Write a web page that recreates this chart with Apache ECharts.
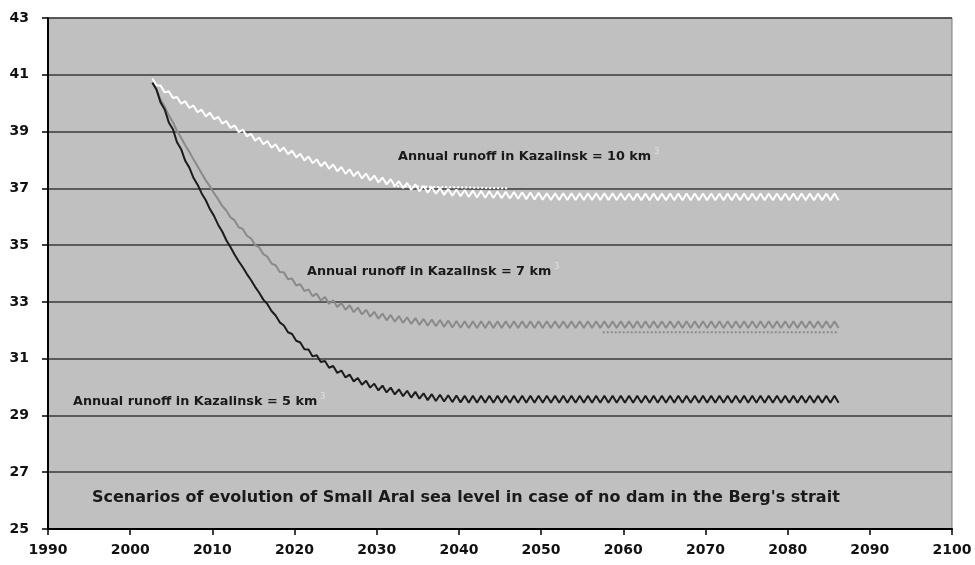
<!DOCTYPE html>
<html>
<head>
<meta charset="utf-8">
<title>Small Aral sea level scenarios</title>
<script src="https://cdn.jsdelivr.net/npm/echarts@6/dist/echarts.min.js"></script>
<style>
html, body { margin: 0; padding: 0; background: #fff; }
#chart { width: 975px; height: 565px; }
</style>
</head>
<body>
<div id="chart"></div>
<script>
// years of simulation (one high/low pair per year)
var years = [
    2003, 2004, 2005, 2006, 2007, 2008, 2009, 2010, 2011, 2012,
    2013, 2014, 2015, 2016, 2017, 2018, 2019, 2020, 2021, 2022,
    2023, 2024, 2025, 2026, 2027, 2028, 2029, 2030, 2031, 2032,
    2033, 2034, 2035, 2036, 2037, 2038, 2039, 2040, 2041, 2042,
    2043, 2044, 2045, 2046, 2047, 2048, 2049, 2050, 2051, 2052,
    2053, 2054, 2055, 2056, 2057, 2058, 2059, 2060, 2061, 2062,
    2063, 2064, 2065, 2066, 2067, 2068, 2069, 2070, 2071, 2072,
    2073, 2074, 2075, 2076, 2077, 2078, 2079, 2080, 2081, 2082,
    2083, 2084, 2085, 2086
];

// runoff 10 km3 (white)
var hi10 = [
    40.87, 40.62, 40.42, 40.22, 40.07, 39.92, 39.77, 39.67, 39.52, 39.37,
    39.22, 39.07, 38.92, 38.79, 38.67, 38.55, 38.44, 38.33, 38.22, 38.12,
    38.02, 37.93, 37.84, 37.75, 37.67, 37.59, 37.52, 37.45, 37.38, 37.32,
    37.25, 37.19, 37.14, 37.09, 37.05, 37.01, 36.98, 36.96, 36.94, 36.92,
    36.91, 36.90, 36.89, 36.88, 36.87, 36.86, 36.85, 36.84, 36.83, 36.83,
    36.83, 36.83, 36.83, 36.83, 36.83, 36.83, 36.83, 36.83, 36.82, 36.82,
    36.82, 36.82, 36.82, 36.82, 36.82, 36.82, 36.82, 36.82, 36.82, 36.82,
    36.82, 36.82, 36.82, 36.82, 36.82, 36.82, 36.82, 36.82, 36.82, 36.82,
    36.82, 36.82, 36.82, 36.82
];
var lo10 = [
    40.63, 40.38, 40.18, 39.98, 39.83, 39.68, 39.53, 39.43, 39.28, 39.13,
    38.98, 38.83, 38.68, 38.55, 38.43, 38.31, 38.20, 38.09, 37.98, 37.88,
    37.78, 37.69, 37.60, 37.51, 37.43, 37.35, 37.28, 37.21, 37.14, 37.08,
    37.01, 36.95, 36.90, 36.85, 36.81, 36.77, 36.74, 36.72, 36.70, 36.68,
    36.67, 36.66, 36.65, 36.64, 36.63, 36.62, 36.61, 36.60, 36.59, 36.59,
    36.59, 36.59, 36.59, 36.59, 36.59, 36.59, 36.59, 36.59, 36.58, 36.58,
    36.58, 36.58, 36.58, 36.58, 36.58, 36.58, 36.58, 36.58, 36.58, 36.58,
    36.58, 36.58, 36.58, 36.58, 36.58, 36.58, 36.58, 36.58, 36.58, 36.58,
    36.58, 36.58, 36.58, 36.58
];

// runoff 7 km3 (grey)
var hi7 = [
    40.72, 40.12, 39.57, 39.02, 38.52, 38.02, 37.52, 37.07, 36.62, 36.22,
    35.87, 35.57, 35.24, 34.92, 34.59, 34.29, 34.04, 33.82, 33.62, 33.44,
    33.29, 33.17, 33.06, 32.96, 32.88, 32.80, 32.72, 32.65, 32.59, 32.54,
    32.50, 32.46, 32.43, 32.40, 32.38, 32.36, 32.34, 32.33, 32.32, 32.32,
    32.32, 32.32, 32.32, 32.32, 32.32, 32.32, 32.32, 32.32, 32.32, 32.32,
    32.32, 32.32, 32.32, 32.32, 32.32, 32.32, 32.32, 32.32, 32.32, 32.32,
    32.32, 32.32, 32.32, 32.32, 32.32, 32.32, 32.32, 32.32, 32.32, 32.32,
    32.32, 32.32, 32.32, 32.32, 32.32, 32.32, 32.32, 32.32, 32.32, 32.32,
    32.32, 32.32, 32.32, 32.32
];
var lo7 = [
    40.48, 39.88, 39.33, 38.78, 38.28, 37.78, 37.28, 36.83, 36.38, 35.98,
    35.63, 35.33, 35.00, 34.68, 34.35, 34.05, 33.80, 33.58, 33.38, 33.20,
    33.05, 32.93, 32.82, 32.72, 32.64, 32.56, 32.48, 32.41, 32.35, 32.30,
    32.26, 32.22, 32.19, 32.16, 32.14, 32.12, 32.10, 32.09, 32.08, 32.08,
    32.08, 32.08, 32.08, 32.08, 32.08, 32.08, 32.08, 32.08, 32.08, 32.08,
    32.08, 32.08, 32.08, 32.08, 32.08, 32.08, 32.08, 32.08, 32.08, 32.08,
    32.08, 32.08, 32.08, 32.08, 32.08, 32.08, 32.08, 32.08, 32.08, 32.08,
    32.08, 32.08, 32.08, 32.08, 32.08, 32.08, 32.08, 32.08, 32.08, 32.08,
    32.08, 32.08, 32.08, 32.08
];

// runoff 5 km3 (black)
var hi5 = [
    40.72, 40.02, 39.32, 38.62, 37.97, 37.37, 36.82, 36.27, 35.72, 35.17,
    34.67, 34.22, 33.77, 33.32, 32.92, 32.52, 32.17, 31.87, 31.57, 31.32,
    31.12, 30.92, 30.74, 30.58, 30.44, 30.32, 30.22, 30.12, 30.05, 29.98,
    29.92, 29.87, 29.83, 29.78, 29.75, 29.73, 29.71, 29.70, 29.69, 29.69,
    29.69, 29.69, 29.69, 29.69, 29.69, 29.69, 29.69, 29.69, 29.69, 29.69,
    29.69, 29.69, 29.69, 29.69, 29.69, 29.69, 29.69, 29.69, 29.69, 29.69,
    29.69, 29.69, 29.69, 29.69, 29.69, 29.69, 29.69, 29.69, 29.69, 29.69,
    29.69, 29.69, 29.69, 29.69, 29.69, 29.69, 29.69, 29.69, 29.69, 29.69,
    29.69, 29.69, 29.69, 29.69
];
var lo5 = [
    40.48, 39.78, 39.08, 38.38, 37.73, 37.13, 36.58, 36.03, 35.48, 34.93,
    34.43, 33.98, 33.53, 33.08, 32.68, 32.28, 31.93, 31.63, 31.33, 31.08,
    30.88, 30.68, 30.50, 30.34, 30.20, 30.08, 29.98, 29.88, 29.81, 29.74,
    29.68, 29.63, 29.59, 29.54, 29.51, 29.49, 29.47, 29.46, 29.45, 29.45,
    29.45, 29.45, 29.45, 29.45, 29.45, 29.45, 29.45, 29.45, 29.45, 29.45,
    29.45, 29.45, 29.45, 29.45, 29.45, 29.45, 29.45, 29.45, 29.45, 29.45,
    29.45, 29.45, 29.45, 29.45, 29.45, 29.45, 29.45, 29.45, 29.45, 29.45,
    29.45, 29.45, 29.45, 29.45, 29.45, 29.45, 29.45, 29.45, 29.45, 29.45,
    29.45, 29.45, 29.45, 29.45
];

// dotted companion lines (only the visible parts)
var dot10Years = [2032, 2046];
var dot10Vals = [37.08, 37.0];
var dot7Years = [2057.5, 2086];
var dot7Vals = [31.93, 31.93];

var yTicks = [25, 27, 29, 31, 33, 35, 37, 39, 41, 43];

var labelFont = 'DejaVu Sans';

// high in spring, low in autumn
function zigzag(hi, lo) {
    var d = [];
    for (var i = 0; i < years.length; i++) {
        d.push([years[i] - 0.3, hi[i]]);
        d.push([years[i] + 0.2, lo[i]]);
    }
    return d;
}

function pairs(xs, ys) {
    return xs.map(function (x, i) { return [x, ys[i]]; });
}

function wave(data, color) {
    return {
        type: 'line',
        data: data,
        showSymbol: false,
        symbol: 'none',
        lineStyle: {color: color, width: 2},
        z: 3
    };
}

function dotted(data, color) {
    return {
        type: 'line',
        data: data,
        showSymbol: false,
        symbol: 'none',
        lineStyle: {color: color, width: 2, type: 'dotted'},
        z: 2
    };
}

function label(left, top, text) {
    return {
        type: 'text',
        left: left,
        top: top,
        style: {
            text: '{t|' + text + '}{s|3}',
            rich: {
                t: {fontFamily: labelFont, fontWeight: 'bold', fontSize: 12.8, lineHeight: 18, fill: '#1a1a1a'},
                s: {fontFamily: labelFont, fontSize: 8, lineHeight: 8, verticalAlign: 'top', padding: [0, 0, 0, 3], fill: '#e2e2e2'}
            }
        }
    };
}

var chart = echarts.init(document.getElementById('chart'));
chart.setOption({
    animation: false,
    backgroundColor: '#ffffff',
    grid: {
        left: 48, right: 23, top: 18, bottom: 36,
        show: true,
        backgroundColor: '#c0c0c0',
        borderColor: '#7f7f7f',
        borderWidth: 1
    },
    xAxis: {
        type: 'value',
        min: 1990,
        max: 2100,
        interval: 10,
        axisLine: {show: true, onZero: false, lineStyle: {color: '#000', width: 2}},
        axisTick: {show: true, inside: false, length: 6, lineStyle: {color: '#000', width: 1.5}},
        axisLabel: {
            margin: 14,
            fontFamily: labelFont,
            fontWeight: 'bold',
            fontSize: 14,
            color: '#111',
            formatter: function (v) { return String(v); }
        },
        splitLine: {show: false}
    },
    yAxis: {
        type: 'value',
        min: 25,
        max: 43,
        axisLine: {show: true, onZero: false, lineStyle: {color: '#000', width: 2}},
        axisTick: {show: true, inside: false, length: 6, customValues: yTicks, lineStyle: {color: '#000', width: 1.5}},
        axisLabel: {
            customValues: yTicks,
            margin: 19,
            fontFamily: labelFont,
            fontWeight: 'bold',
            fontSize: 14,
            color: '#111'
        },
        splitLine: {show: true, lineStyle: {color: '#3a3a3a', width: 1.5}}
    },
    series: [
        dotted(pairs(dot10Years, dot10Vals), '#ffffff'),
        dotted(pairs(dot7Years, dot7Vals), '#8a8a8a'),
        wave(zigzag(hi10, lo10), '#ffffff'),
        wave(zigzag(hi7, lo7), '#8a8a8a'),
        wave(zigzag(hi5, lo5), '#1c1c1c')
    ],
    graphic: [
        label(398, 148, 'Annual runoff in Kazalinsk = 10 km'),
        label(307, 263, 'Annual runoff in Kazalinsk = 7 km'),
        label(73, 393, 'Annual runoff in Kazalinsk = 5 km'),
        {
            type: 'text',
            left: 92,
            top: 490,
            style: {
                text: "Scenarios of evolution of Small Aral sea level in case of no dam in the Berg's strait",
                fontFamily: labelFont,
                fontWeight: 'bold',
                fontSize: 16,
                fill: '#1a1a1a'
            }
        }
    ]
});
</script>
</body>
</html>
